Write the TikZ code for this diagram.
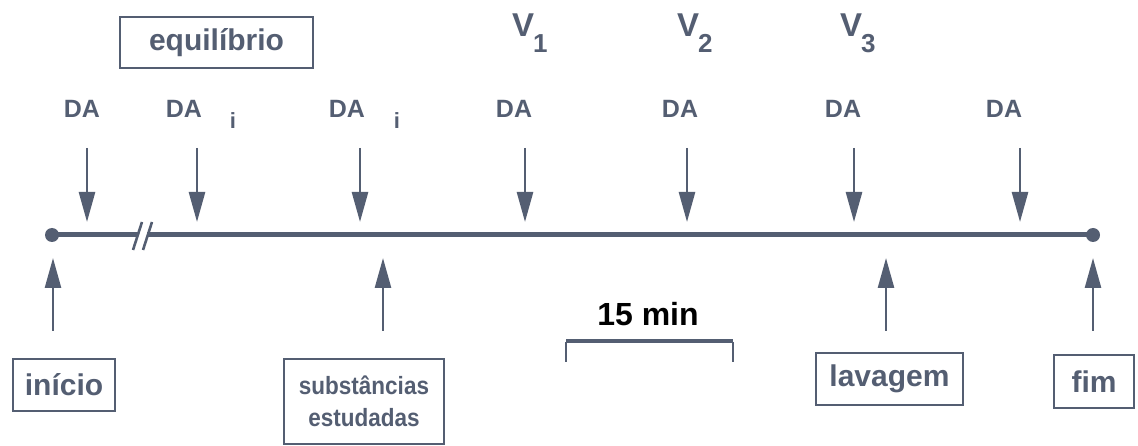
\documentclass[tikz,border=0pt]{standalone}
\usepackage{fontspec}
\setmainfont{Liberation Sans}
\newfontfamily\narrowsans[FakeStretch=0.9]{Liberation Sans}
\usetikzlibrary{arrows.meta}
\definecolor{ink}{RGB}{84,94,114}
\newcommand{\fsBig}{\fontsize{30}{30}\selectfont}
\newcommand{\fsScale}{\fontsize{32}{32}\selectfont}
\newcommand{\fsTwo}{\narrowsans\fontsize{25}{32}\selectfont}
\newcommand{\fsDA}{\fontsize{25}{25}\selectfont}
\newcommand{\fsV}{\fontsize{33}{33}\selectfont}
\newcommand{\fsVsub}{\fontsize{26}{26}\selectfont}
\newcommand{\fsIdx}{\fontsize{22}{22}\selectfont}
\begin{document}
\begin{tikzpicture}[x=1pt,y=-1pt,
  every node/.style={text=ink},
  framebox/.style={draw=ink, line width=2.4pt, inner sep=0pt, align=center,
                   font=\bfseries\fsBig},
  dalabel/.style={anchor=base, font=\bfseries\fsDA, inner sep=0pt},
  idxlabel/.style={anchor=base, font=\bfseries\fsIdx, inner sep=0pt},
  vlabel/.style={anchor=base west, font=\bfseries\fsV, inner sep=0pt},
  dot/.style={circle, fill=ink, inner sep=0pt, minimum size=14pt},
  timeline/.style={draw=ink, line width=5pt},
  breakmark/.style={draw=ink, line width=2.6pt},
  arr/.style={draw=ink, line width=2.6pt, -{Triangle[length=30pt,width=16pt]}},
  scalebar/.style={draw=ink, line width=4pt},
  scaletick/.style={draw=ink, line width=2.6pt}
]
\path[use as bounding box] (0,0) rectangle (1138,446);

% time axis with a break near the start
\node[dot] (start) at (52,235) {};
\node[dot] (end) at (1093,235) {};
\coordinate (brkL) at (138,235);
\coordinate (brkR) at (147,235);
\draw[timeline] (start.center) -- (brkL);
\draw[timeline] (brkR) -- (end.center);
\draw[breakmark] (133,250) -- (142,222);
\draw[breakmark] (143,250) -- (152,222);

% top boxed label
\node[framebox, minimum width=193pt, minimum height=51pt] (equil) at (216.5,42.5) {equilíbrio};

% V labels
\node[vlabel] (v1) at (512,37) {V\kern-1pt\raisebox{-16pt}{\fsVsub 1}};
\node[vlabel] (v2) at (677,37) {V\kern-1pt\raisebox{-16pt}{\fsVsub 2}};
\node[vlabel] (v3) at (840,37) {V\kern-1pt\raisebox{-16pt}{\fsVsub 3}};

% DA labels
\node[dalabel] (da1) at (82,118) {DA};
\node[dalabel] (da2) at (184,118) {DA};
\node[idxlabel] (i2) at (233,129) {i};
\node[dalabel] (da3) at (347,118) {DA};
\node[idxlabel] (i3) at (397,129) {i};
\node[dalabel] (da4) at (514,118) {DA};
\node[dalabel] (da5) at (680,118) {DA};
\node[dalabel] (da6) at (843,118) {DA};
\node[dalabel] (da7) at (1004,118) {DA};

% downward arrows onto the axis
\foreach \n/\x in {1/87,2/197,3/360,4/525,5/687,6/854,7/1020} {
  \coordinate (dtop\n) at (\x,148);
  \coordinate (dtip\n) at (\x,222);
  \draw[arr] (dtop\n) -- (dtip\n);
}

% upward arrows from the event boxes
\foreach \n/\x in {1/53,2/383,3/886,4/1093} {
  \coordinate (utail\n) at (\x,331);
  \coordinate (utip\n) at (\x,258);
  \draw[arr] (utail\n) -- (utip\n);
}

% event boxes
\node[framebox, minimum width=102pt, minimum height=52pt] (inicio) at (64,385) {início};
\node[framebox, font=\bfseries\fsTwo, minimum width=160pt, minimum height=85pt] (subst) at (364,401.5) {substâncias\\estudadas};
\node[framebox, minimum width=147pt, minimum height=52pt] (lavagem) at (889.5,379) {lavagem};
\node[framebox, minimum width=80pt, minimum height=53pt] (fim) at (1094,381.5) {fim};

% 15 min scale bar
\node[anchor=base, font=\bfseries\fsScale, text=black, inner sep=0pt] (scale) at (648,326) {15 min};
\coordinate (sbL) at (566,341);
\coordinate (sbR) at (733,341);
\draw[scalebar] (sbL) -- (sbR);
\draw[scaletick] ([yshift=-1pt]sbL) -- ++(0,20);
\draw[scaletick] ([yshift=-1pt]sbR) -- ++(0,20);
\end{tikzpicture}
\end{document}
